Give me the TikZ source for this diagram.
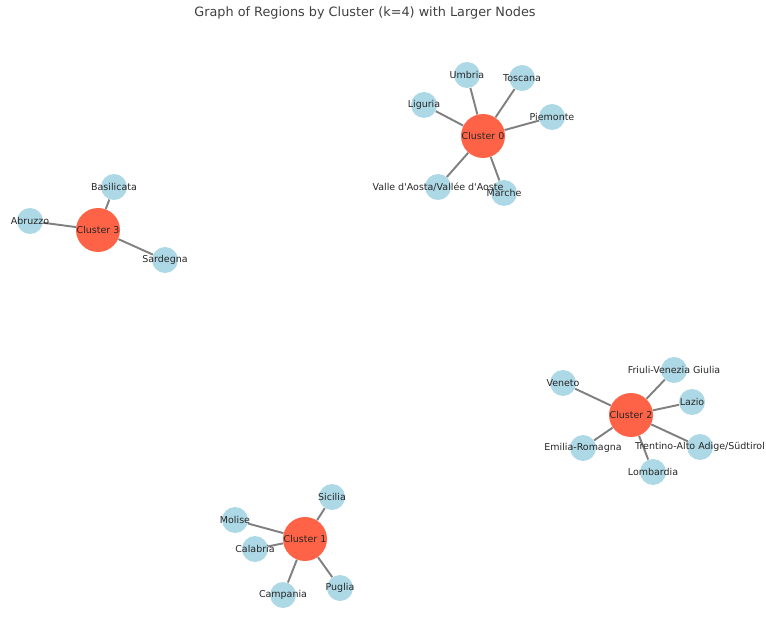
\documentclass[tikz,border=0pt]{standalone}
\usepackage{fontspec}
\setmainfont{DejaVu Sans}[Ligatures=TeXOff]
\usetikzlibrary{backgrounds}

\definecolor{tomato}{RGB}{255,99,71}
\definecolor{lightblue}{RGB}{173,216,230}
\tikzstyle{cluster} = [circle, fill=tomato, minimum size=0.88cm, inner sep=0pt]
\tikzstyle{region} = [circle, fill=lightblue, minimum size=0.52cm, inner sep=0pt]
\tikzstyle{link} = [draw, color=gray, line width=1.1pt]
\tikzstyle{tag} = [font=\fontsize{5.4}{6}\selectfont, text=black!85, inner sep=0pt]

\begin{document}
\begin{tikzpicture}[x=0.02cm, y=-0.02cm]
    \useasboundingbox (0,0) rectangle (766,624);

    % title
    \node[font=\fontsize{7.3}{8}\selectfont, text=black!75] (title) at (365,13)
        {Graph of Regions by Cluster (k=4) with Larger Nodes};

    % cluster 0
    \node[cluster, label={[tag]center:Cluster 0}] (c0) at (483,136) {};
    \node[region, label={[tag]center:Umbria}] (umbria) at (467,75) {};
    \node[region, label={[tag]center:Toscana}] (toscana) at (522,78) {};
    \node[region, label={[tag]center:Liguria}] (liguria) at (424,105) {};
    \node[region, label={[tag]center:Piemonte}] (piemonte) at (552,117) {};
    \node[region, label={[tag]center:Marche}] (marche) at (504,193) {};
    \node[region, label={[tag]center:Valle d'Aosta/Vallée d'Aoste}] (valle) at (438,187) {};

    % cluster 3
    \node[cluster, label={[tag]center:Cluster 3}] (c3) at (98,230) {};
    \node[region, label={[tag]center:Basilicata}] (basilicata) at (114,187) {};
    \node[region, label={[tag]center:Abruzzo}] (abruzzo) at (30,221) {};
    \node[region, label={[tag]center:Sardegna}] (sardegna) at (165,260) {};

    % cluster 2
    \node[cluster, label={[tag]center:Cluster 2}] (c2) at (631,415) {};
    \node[region, label={[tag]center:Friuli-Venezia Giulia}] (friuli) at (674,370) {};
    \node[region, label={[tag]center:Veneto}] (veneto) at (563,383) {};
    \node[region, label={[tag]center:Lazio}] (lazio) at (692,402) {};
    \node[region, label={[tag]center:Emilia-Romagna}] (emilia) at (583,448) {};
    \node[region, label={[tag]center:Lombardia}] (lombardia) at (653,472) {};
    \node[region, label={[tag]center:Trentino-Alto Adige/Südtirol}] (trentino) at (700,447) {};

    % cluster 1
    \node[cluster, label={[tag]center:Cluster 1}] (c1) at (305,539) {};
    \node[region, label={[tag]center:Sicilia}] (sicilia) at (332,497) {};
    \node[region, label={[tag]center:Molise}] (molise) at (235,520) {};
    \node[region, label={[tag]center:Calabria}] (calabria) at (255,549) {};
    \node[region, label={[tag]center:Campania}] (campania) at (283,595) {};
    \node[region, label={[tag]center:Puglia}] (puglia) at (340,588) {};

    % edges
    \begin{scope}[on background layer]
        \foreach \r in {umbria,toscana,liguria,piemonte,marche,valle}
            \path[link] (c0) -- (\r);
        \foreach \r in {basilicata,abruzzo,sardegna}
            \path[link] (c3) -- (\r);
        \foreach \r in {friuli,veneto,lazio,emilia,lombardia,trentino}
            \path[link] (c2) -- (\r);
        \foreach \r in {sicilia,molise,calabria,campania,puglia}
            \path[link] (c1) -- (\r);
    \end{scope}
\end{tikzpicture}
\end{document}
